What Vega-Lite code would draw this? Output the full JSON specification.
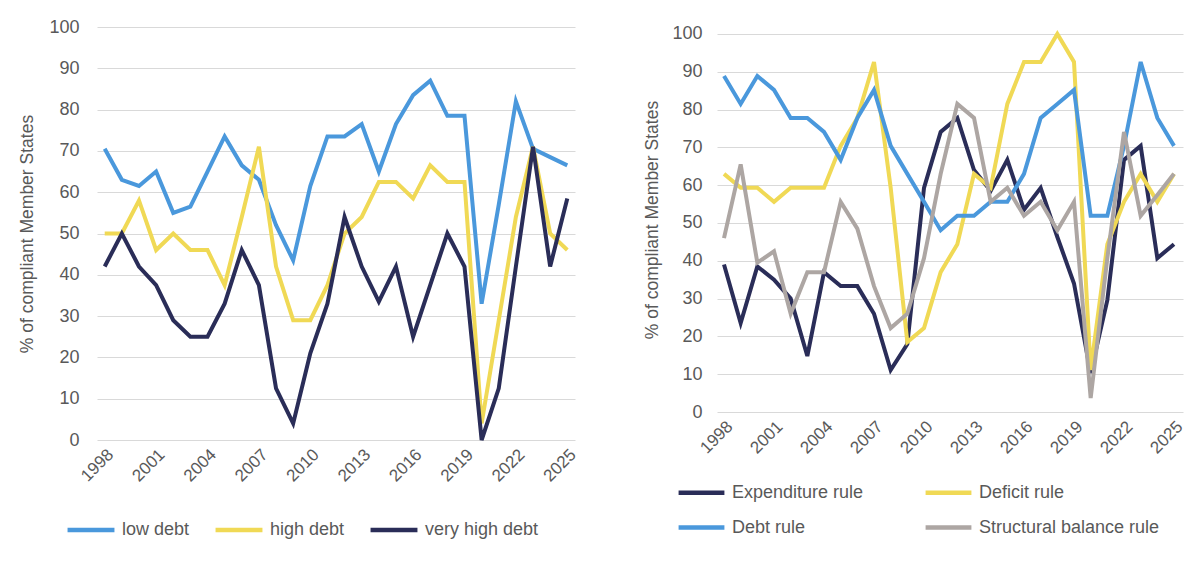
{
  "$schema": "https://vega.github.io/schema/vega-lite/v6.json",
  "background": "white",
  "padding": {"left": 18, "top": 18, "right": 5, "bottom": 5},
  "spacing": 64,
  "config": {
    "view": {"stroke": null},
    "font": "Liberation Sans",
    "axis": {"labelColor": "#595959", "titleColor": "#595959", "labelFontSize": 18, "titleFontSize": 17.5, "titleFontWeight": "normal", "domain": false, "ticks": false, "gridColor": "#d9d9d9", "gridWidth": 1.2},
    "legend": {"labelColor": "#595959", "labelFontSize": 18, "labelLimit": 400}
  },
  "datasets": {
    "left": [
      {"year": 1998, "series": "low debt", "v": 70.5}, {"year": 1999, "series": "low debt", "v": 63}, {"year": 2000, "series": "low debt", "v": 61.5}, {"year": 2001, "series": "low debt", "v": 65}, {"year": 2002, "series": "low debt", "v": 55}, {"year": 2003, "series": "low debt", "v": 56.5}, {"year": 2004, "series": "low debt", "v": 65}, {"year": 2005, "series": "low debt", "v": 73.5}, {"year": 2006, "series": "low debt", "v": 66.5}, {"year": 2007, "series": "low debt", "v": 63}, {"year": 2008, "series": "low debt", "v": 52}, {"year": 2009, "series": "low debt", "v": 43.5}, {"year": 2010, "series": "low debt", "v": 61.5}, {"year": 2011, "series": "low debt", "v": 73.5}, {"year": 2012, "series": "low debt", "v": 73.5}, {"year": 2013, "series": "low debt", "v": 76.5}, {"year": 2014, "series": "low debt", "v": 65}, {"year": 2015, "series": "low debt", "v": 76.5}, {"year": 2016, "series": "low debt", "v": 83.5}, {"year": 2017, "series": "low debt", "v": 87}, {"year": 2018, "series": "low debt", "v": 78.5}, {"year": 2019, "series": "low debt", "v": 78.5}, {"year": 2020, "series": "low debt", "v": 33}, {"year": 2021, "series": "low debt", "v": 57}, {"year": 2022, "series": "low debt", "v": 82}, {"year": 2023, "series": "low debt", "v": 70.5}, {"year": 2024, "series": "low debt", "v": 68.5}, {"year": 2025, "series": "low debt", "v": 66.5},
      {"year": 1998, "series": "high debt", "v": 50}, {"year": 1999, "series": "high debt", "v": 50}, {"year": 2000, "series": "high debt", "v": 58}, {"year": 2001, "series": "high debt", "v": 46}, {"year": 2002, "series": "high debt", "v": 50}, {"year": 2003, "series": "high debt", "v": 46}, {"year": 2004, "series": "high debt", "v": 46}, {"year": 2005, "series": "high debt", "v": 37.5}, {"year": 2006, "series": "high debt", "v": 54}, {"year": 2007, "series": "high debt", "v": 71}, {"year": 2008, "series": "high debt", "v": 42}, {"year": 2009, "series": "high debt", "v": 29}, {"year": 2010, "series": "high debt", "v": 29}, {"year": 2011, "series": "high debt", "v": 37.5}, {"year": 2012, "series": "high debt", "v": 50}, {"year": 2013, "series": "high debt", "v": 54}, {"year": 2014, "series": "high debt", "v": 62.5}, {"year": 2015, "series": "high debt", "v": 62.5}, {"year": 2016, "series": "high debt", "v": 58.5}, {"year": 2017, "series": "high debt", "v": 66.5}, {"year": 2018, "series": "high debt", "v": 62.5}, {"year": 2019, "series": "high debt", "v": 62.5}, {"year": 2020, "series": "high debt", "v": 4}, {"year": 2021, "series": "high debt", "v": 29}, {"year": 2022, "series": "high debt", "v": 54}, {"year": 2023, "series": "high debt", "v": 71}, {"year": 2024, "series": "high debt", "v": 50}, {"year": 2025, "series": "high debt", "v": 46},
      {"year": 1998, "series": "very high debt", "v": 42}, {"year": 1999, "series": "very high debt", "v": 50}, {"year": 2000, "series": "very high debt", "v": 42}, {"year": 2001, "series": "very high debt", "v": 37.5}, {"year": 2002, "series": "very high debt", "v": 29}, {"year": 2003, "series": "very high debt", "v": 25}, {"year": 2004, "series": "very high debt", "v": 25}, {"year": 2005, "series": "very high debt", "v": 33}, {"year": 2006, "series": "very high debt", "v": 46}, {"year": 2007, "series": "very high debt", "v": 37.5}, {"year": 2008, "series": "very high debt", "v": 12.5}, {"year": 2009, "series": "very high debt", "v": 4}, {"year": 2010, "series": "very high debt", "v": 21}, {"year": 2011, "series": "very high debt", "v": 33}, {"year": 2012, "series": "very high debt", "v": 54}, {"year": 2013, "series": "very high debt", "v": 42}, {"year": 2014, "series": "very high debt", "v": 33.5}, {"year": 2015, "series": "very high debt", "v": 42}, {"year": 2016, "series": "very high debt", "v": 25}, {"year": 2017, "series": "very high debt", "v": 37.5}, {"year": 2018, "series": "very high debt", "v": 50}, {"year": 2019, "series": "very high debt", "v": 42}, {"year": 2020, "series": "very high debt", "v": 0}, {"year": 2021, "series": "very high debt", "v": 12.5}, {"year": 2022, "series": "very high debt", "v": 42}, {"year": 2023, "series": "very high debt", "v": 71}, {"year": 2024, "series": "very high debt", "v": 42}, {"year": 2025, "series": "very high debt", "v": 58.5}
    ],
    "right": [
      {"year": 1998, "rule": "Expenditure rule", "v": 39}, {"year": 1999, "rule": "Expenditure rule", "v": 23.5}, {"year": 2000, "rule": "Expenditure rule", "v": 38.5}, {"year": 2001, "rule": "Expenditure rule", "v": 35}, {"year": 2002, "rule": "Expenditure rule", "v": 30}, {"year": 2003, "rule": "Expenditure rule", "v": 14.8}, {"year": 2004, "rule": "Expenditure rule", "v": 37}, {"year": 2005, "rule": "Expenditure rule", "v": 33.3}, {"year": 2006, "rule": "Expenditure rule", "v": 33.3}, {"year": 2007, "rule": "Expenditure rule", "v": 26}, {"year": 2008, "rule": "Expenditure rule", "v": 11.1}, {"year": 2009, "rule": "Expenditure rule", "v": 18}, {"year": 2010, "rule": "Expenditure rule", "v": 59.3}, {"year": 2011, "rule": "Expenditure rule", "v": 74.1}, {"year": 2012, "rule": "Expenditure rule", "v": 77.8}, {"year": 2013, "rule": "Expenditure rule", "v": 64}, {"year": 2014, "rule": "Expenditure rule", "v": 58.5}, {"year": 2015, "rule": "Expenditure rule", "v": 66.7}, {"year": 2016, "rule": "Expenditure rule", "v": 53.5}, {"year": 2017, "rule": "Expenditure rule", "v": 59.3}, {"year": 2018, "rule": "Expenditure rule", "v": 46.3}, {"year": 2019, "rule": "Expenditure rule", "v": 34}, {"year": 2020, "rule": "Expenditure rule", "v": 10.3}, {"year": 2021, "rule": "Expenditure rule", "v": 29.6}, {"year": 2022, "rule": "Expenditure rule", "v": 66.7}, {"year": 2023, "rule": "Expenditure rule", "v": 70.4}, {"year": 2024, "rule": "Expenditure rule", "v": 40.7}, {"year": 2025, "rule": "Expenditure rule", "v": 44.4},
      {"year": 1998, "rule": "Deficit rule", "v": 63}, {"year": 1999, "rule": "Deficit rule", "v": 59.3}, {"year": 2000, "rule": "Deficit rule", "v": 59.3}, {"year": 2001, "rule": "Deficit rule", "v": 55.6}, {"year": 2002, "rule": "Deficit rule", "v": 59.3}, {"year": 2003, "rule": "Deficit rule", "v": 59.3}, {"year": 2004, "rule": "Deficit rule", "v": 59.3}, {"year": 2005, "rule": "Deficit rule", "v": 70.4}, {"year": 2006, "rule": "Deficit rule", "v": 77.8}, {"year": 2007, "rule": "Deficit rule", "v": 92.6}, {"year": 2008, "rule": "Deficit rule", "v": 59.3}, {"year": 2009, "rule": "Deficit rule", "v": 18.5}, {"year": 2010, "rule": "Deficit rule", "v": 22.2}, {"year": 2011, "rule": "Deficit rule", "v": 37}, {"year": 2012, "rule": "Deficit rule", "v": 44.4}, {"year": 2013, "rule": "Deficit rule", "v": 63}, {"year": 2014, "rule": "Deficit rule", "v": 59.3}, {"year": 2015, "rule": "Deficit rule", "v": 81.5}, {"year": 2016, "rule": "Deficit rule", "v": 92.6}, {"year": 2017, "rule": "Deficit rule", "v": 92.6}, {"year": 2018, "rule": "Deficit rule", "v": 100}, {"year": 2019, "rule": "Deficit rule", "v": 92.6}, {"year": 2020, "rule": "Deficit rule", "v": 11.1}, {"year": 2021, "rule": "Deficit rule", "v": 44.4}, {"year": 2022, "rule": "Deficit rule", "v": 55.6}, {"year": 2023, "rule": "Deficit rule", "v": 63}, {"year": 2024, "rule": "Deficit rule", "v": 55.6}, {"year": 2025, "rule": "Deficit rule", "v": 63},
      {"year": 1998, "rule": "Debt rule", "v": 88.9}, {"year": 1999, "rule": "Debt rule", "v": 81.5}, {"year": 2000, "rule": "Debt rule", "v": 88.9}, {"year": 2001, "rule": "Debt rule", "v": 85.2}, {"year": 2002, "rule": "Debt rule", "v": 77.8}, {"year": 2003, "rule": "Debt rule", "v": 77.8}, {"year": 2004, "rule": "Debt rule", "v": 74.1}, {"year": 2005, "rule": "Debt rule", "v": 66.7}, {"year": 2006, "rule": "Debt rule", "v": 77.8}, {"year": 2007, "rule": "Debt rule", "v": 85.2}, {"year": 2008, "rule": "Debt rule", "v": 70.4}, {"year": 2009, "rule": "Debt rule", "v": 63}, {"year": 2010, "rule": "Debt rule", "v": 55.6}, {"year": 2011, "rule": "Debt rule", "v": 48.1}, {"year": 2012, "rule": "Debt rule", "v": 51.9}, {"year": 2013, "rule": "Debt rule", "v": 51.9}, {"year": 2014, "rule": "Debt rule", "v": 55.6}, {"year": 2015, "rule": "Debt rule", "v": 55.6}, {"year": 2016, "rule": "Debt rule", "v": 63}, {"year": 2017, "rule": "Debt rule", "v": 77.8}, {"year": 2018, "rule": "Debt rule", "v": 81.5}, {"year": 2019, "rule": "Debt rule", "v": 85.2}, {"year": 2020, "rule": "Debt rule", "v": 51.9}, {"year": 2021, "rule": "Debt rule", "v": 51.9}, {"year": 2022, "rule": "Debt rule", "v": 70.4}, {"year": 2023, "rule": "Debt rule", "v": 92.6}, {"year": 2024, "rule": "Debt rule", "v": 77.8}, {"year": 2025, "rule": "Debt rule", "v": 70.4},
      {"year": 1998, "rule": "Structural balance rule", "v": 46}, {"year": 1999, "rule": "Structural balance rule", "v": 65.5}, {"year": 2000, "rule": "Structural balance rule", "v": 39.5}, {"year": 2001, "rule": "Structural balance rule", "v": 42.5}, {"year": 2002, "rule": "Structural balance rule", "v": 26}, {"year": 2003, "rule": "Structural balance rule", "v": 37}, {"year": 2004, "rule": "Structural balance rule", "v": 37}, {"year": 2005, "rule": "Structural balance rule", "v": 55.6}, {"year": 2006, "rule": "Structural balance rule", "v": 48.5}, {"year": 2007, "rule": "Structural balance rule", "v": 33.3}, {"year": 2008, "rule": "Structural balance rule", "v": 22.2}, {"year": 2009, "rule": "Structural balance rule", "v": 26}, {"year": 2010, "rule": "Structural balance rule", "v": 40.7}, {"year": 2011, "rule": "Structural balance rule", "v": 63}, {"year": 2012, "rule": "Structural balance rule", "v": 81.5}, {"year": 2013, "rule": "Structural balance rule", "v": 77.8}, {"year": 2014, "rule": "Structural balance rule", "v": 55.6}, {"year": 2015, "rule": "Structural balance rule", "v": 59.3}, {"year": 2016, "rule": "Structural balance rule", "v": 51.9}, {"year": 2017, "rule": "Structural balance rule", "v": 55.6}, {"year": 2018, "rule": "Structural balance rule", "v": 48.1}, {"year": 2019, "rule": "Structural balance rule", "v": 55.6}, {"year": 2020, "rule": "Structural balance rule", "v": 3.7}, {"year": 2021, "rule": "Structural balance rule", "v": 40.7}, {"year": 2022, "rule": "Structural balance rule", "v": 74.1}, {"year": 2023, "rule": "Structural balance rule", "v": 51.9}, {"year": 2024, "rule": "Structural balance rule", "v": 57.4}, {"year": 2025, "rule": "Structural balance rule", "v": 63}
    ]
  },
  "resolve": {"scale": {"color": "independent", "y": "independent", "x": "independent"}},
  "hconcat": [
    {
      "width": 478,
      "height": 413,
      "data": {"name": "left"},
      "mark": {"type": "line", "strokeWidth": 4, "strokeJoin": "miter"},
      "encoding": {
        "x": {"field": "year", "type": "quantitative", "scale": {"domain": [1997.55, 2025.45], "nice": false, "zero": false},
          "axis": {"values": [1998, 2001, 2004, 2007, 2010, 2013, 2016, 2019, 2022, 2025], "format": "d", "labelAngle": -45, "labelFontSize": 17, "grid": false, "title": null, "labelPadding": 6}},
        "y": {"field": "v", "type": "quantitative", "scale": {"domain": [0, 100], "nice": false},
          "axis": {"values": [0, 10, 20, 30, 40, 50, 60, 70, 80, 90, 100], "title": "% of compliant Member States", "labelPadding": 18, "titlePadding": 12}},
        "color": {"field": "series", "type": "nominal",
          "scale": {"domain": ["low debt", "high debt", "very high debt"], "range": ["#4A98DC", "#F0D955", "#2A2D58"]},
          "legend": {"title": null, "orient": "none", "direction": "horizontal", "legendX": -32, "legendY": 477, "symbolType": "stroke", "symbolSize": 2200, "symbolStrokeWidth": 4.5, "labelOffset": 5, "columnPadding": 16}},
        "order": {"field": "year"}
      }
    },
    {
      "width": 466,
      "height": 385,
      "data": {"name": "right"},
      "mark": {"type": "line", "strokeWidth": 4, "strokeJoin": "miter"},
      "encoding": {
        "x": {"field": "year", "type": "quantitative", "scale": {"domain": [1997.58, 2025.54], "nice": false, "zero": false},
          "axis": {"values": [1998, 2001, 2004, 2007, 2010, 2013, 2016, 2019, 2022, 2025], "format": "d", "labelAngle": -45, "labelFontSize": 17, "grid": false, "title": null, "labelPadding": 6}},
        "y": {"field": "v", "type": "quantitative", "scale": {"domain": [0, 101.85], "nice": false},
          "axis": {"values": [0, 10, 20, 30, 40, 50, 60, 70, 80, 90, 100], "title": "% of compliant Member States", "labelPadding": 15, "titlePadding": 10}},
        "color": {"field": "rule", "type": "nominal",
          "scale": {"domain": ["Expenditure rule", "Deficit rule", "Debt rule", "Structural balance rule"], "range": ["#2A2D58", "#F0D955", "#4A98DC", "#ADA6A3"]},
          "legend": {"title": null, "orient": "none", "direction": "horizontal", "columns": 2, "legendX": -41, "legendY": 440, "symbolType": "stroke", "symbolSize": 2100, "symbolStrokeWidth": 4.5, "labelOffset": 5, "columnPadding": 52, "rowPadding": -1}},
        "order": {"field": "year"}
      }
    }
  ]
}
